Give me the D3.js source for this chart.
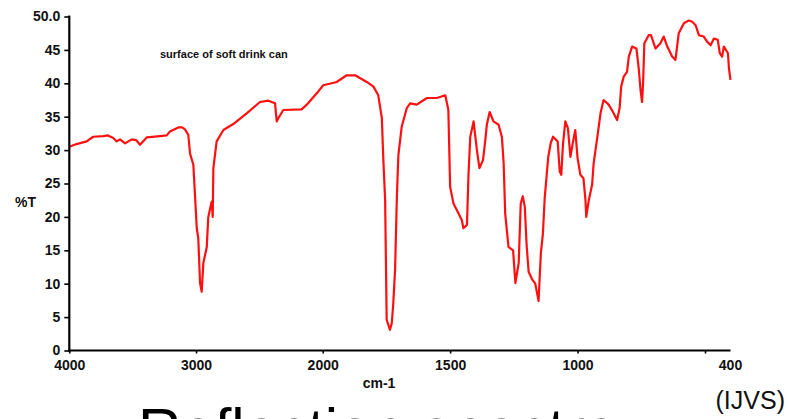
<!DOCTYPE html>
<html>
<head>
<meta charset="utf-8">
<script src="https://cdn.jsdelivr.net/npm/d3@7"></script>
<style>
  body { margin: 0; background: #fff; }
  svg { display: block; font-family: "Liberation Sans", Arial, sans-serif; }
</style>
</head>
<body>
<div id="chart"></div>
<script>
// wavenumber (cm-1) and %T
const wavenumber = [
  4000,3942,3863,3811,3732,3695,3653,3626,3600,3560,
  3507,3473,3442,3389,3284,3231,3205,3140,3110,3087,
  3061,3047,3021,3008,2994,2982,2968,2955,2942,2915,
  2903,2876,2868,2863,2837,2784,2706,2600,2495,2429,
  2376,2363,2349,2311,2166,2126,2047,1998,1945,1906,
  1873,1827,1801,1782,1768,1762,1755,1749,1736,1729,
  1723,1716,1709,1703,1690,1670,1657,1631,1591,1552,
  1519,1507,1500,1487,1467,1454,1448,1434,1428,1421,
  1408,1395,1385,1371,1362,1356,1345,1330,1310,1297,
  1290,1284,1271,1253,1244,1231,1223,1215,1207,1200,
  1192,1179,1166,1159,1153,1144,1136,1129,1115,1105,
  1096,1078,1070,1064,1057,1048,1038,1028,1019,1009,
  1000,989,977,969,966,956,943,937,923,910,
  898,878,861,845,835,829,819,806,799,786,
  769,760,753,747,743,738,721,712,694,675,
  662,648,629,616,603,583,564,550,537,524,
  505,491,478,465,450,442,433,426,410,406,
  400
];
const transmittance = [
  30.5,30.9,31.3,32.0,32.1,32.2,31.8,31.3,31.6,31.0,
  31.6,31.5,30.8,31.9,32.1,32.2,32.8,33.4,33.4,33.1,
  32.3,29.5,27.8,23.3,18.3,16.8,10.1,8.8,13.1,15.5,
  20.0,22.3,20.0,27.3,31.3,33.0,33.9,35.5,37.2,37.4,
  37.0,34.3,34.8,36.0,36.1,36.8,38.5,39.7,40.2,41.2,
  41.2,40.2,39.5,38.2,34.8,28.5,22.5,4.6,3.1,4.1,
  7.1,12.1,23.0,29.3,33.5,36.3,37.0,36.8,37.8,37.8,
  38.2,36.0,24.5,22.0,20.5,19.5,18.3,18.8,26.3,32.0,
  34.3,30.0,27.3,28.5,31.5,33.8,35.7,34.3,33.8,32.0,
  28.0,20.5,15.5,15.0,10.1,13.1,22.0,23.1,21.5,15.8,
  11.8,10.7,10.0,8.6,7.4,14.6,17.5,22.8,29.0,31.1,
  32.0,31.3,26.8,26.3,31.0,34.3,33.3,29.0,31.0,33.0,
  28.8,26.3,25.8,22.5,20.0,22.5,24.8,28.0,31.8,35.5,
  37.5,36.8,35.7,34.5,36.3,39.5,41.0,41.7,44.0,45.5,
  45.2,42.2,39.0,37.2,40.0,46.0,47.2,47.2,45.2,46.0,
  47.0,45.5,44.0,43.5,47.5,49.0,49.4,49.2,48.7,47.2,
  47.0,46.2,45.7,46.7,46.5,44.5,44.0,45.5,44.5,42.2,
  40.5
];
const xTicks = [4000, 3000, 2000, 1500, 1000, 500];
const xTickLabels = ["4000", "3000", "2000", "1500", "1000", ""];
const yTicks = [0, 5, 10, 15, 20, 25, 30, 35, 40, 45, 50];
const yTickLabels = ["0", "5", "10", "15", "20", "25", "30", "35", "40", "45", "50.0"];

const width = 790, height = 419;

const svg = d3.select("#chart").append("svg")
  .attr("width", width)
  .attr("height", height);

svg.append("rect").attr("width", width).attr("height", height).attr("fill", "#fff");

// scale doubles below 2000 cm-1, like the instrument plot
const x = d3.scaleLinear().domain([4000, 2000, 400]).range([69.3, 322.7, 730.5]);
const y = d3.scaleLinear().domain([0, 50]).range([350.5, 16.5]);

const data = wavenumber.map((w, i) => ({ w, t: transmittance[i] }));

const line = d3.line()
  .x(d => x(d.w))
  .y(d => y(d.t));

svg.append("path")
  .datum(data)
  .attr("fill", "none")
  .attr("stroke", "#ff1010")
  .attr("stroke-width", 2.2)
  .attr("stroke-linejoin", "round")
  .attr("d", line);

// y axis
const yAxis = svg.append("g").attr("transform", `translate(${x(4000)},0)`)
  .call(d3.axisLeft(y).tickValues(yTicks).tickSize(5)
    .tickFormat((d, i) => yTickLabels[i]));
yAxis.select(".domain").attr("stroke", "#000").attr("stroke-width", 2.2)
  .attr("d", `M0,${y(50) - 1}V${y(0) + 1}`);
yAxis.selectAll(".tick line").attr("stroke", "#000").attr("stroke-width", 1.6);
yAxis.selectAll(".tick text")
  .attr("x", -9)
  .attr("font-size", 14)
  .attr("font-weight", "bold")
  .attr("fill", "#111");

// x axis
const xAxis = svg.append("g").attr("transform", `translate(0,${y(0)})`)
  .call(d3.axisBottom(x).tickValues(xTicks).tickSize(3)
    .tickFormat((d, i) => xTickLabels[i]));
xAxis.select(".domain").attr("stroke", "#000").attr("stroke-width", 2.2)
  .attr("d", `M${x(4000) - 1},0H${x(400)}`);
xAxis.selectAll(".tick line").attr("stroke", "#000").attr("stroke-width", 1.6);
xAxis.selectAll(".tick text")
  .attr("y", 10)
  .attr("font-size", 14)
  .attr("font-weight", "bold")
  .attr("fill", "#111");
xAxis.append("text")
  .attr("x", x(400))
  .attr("y", 10)
  .attr("dy", "0.71em")
  .attr("text-anchor", "middle")
  .attr("font-size", 14)
  .attr("font-weight", "bold")
  .attr("fill", "#111")
  .text("400");

// labels
svg.append("text").attr("x", 15).attr("y", 207)
  .attr("font-size", 14).attr("font-weight", "bold").attr("fill", "#111")
  .text("%T");

svg.append("text").attr("x", 379).attr("y", 388)
  .attr("text-anchor", "middle")
  .attr("font-size", 14).attr("font-weight", "bold").attr("fill", "#111")
  .text("cm-1");

svg.append("text").attr("x", 160).attr("y", 58)
  .attr("font-size", 11).attr("font-weight", "bold").attr("fill", "#111")
  .text("surface of soft drink can");

svg.append("text").attr("x", 785).attr("y", 409)
  .attr("text-anchor", "end")
  .attr("font-size", 25).attr("fill", "#111")
  .text("(IJVS)");

// slide title, cut off at the bottom edge as in the source image
svg.append("text").attr("x", 138).attr("y", 450)
  .attr("font-size", 60).attr("fill", "#000")
  .text("Reflection spectra");
</script>
</body>
</html>
